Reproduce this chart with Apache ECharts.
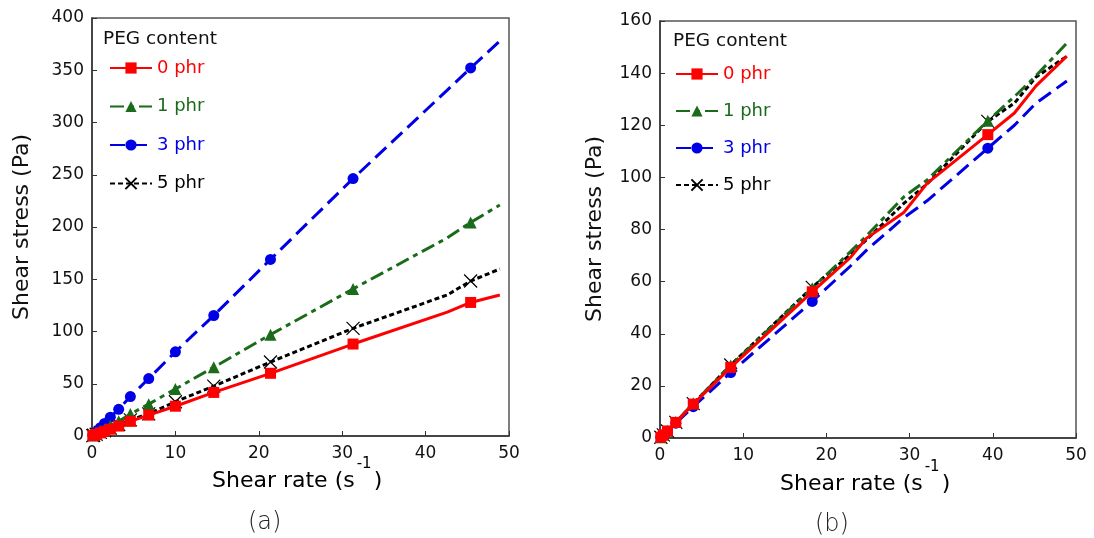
<!DOCTYPE html>
<html>
<head>
<meta charset="utf-8">
<script src="https://cdn.jsdelivr.net/npm/echarts@6/dist/echarts.min.js"></script>
<style>
html,body{margin:0;padding:0;background:#fff;}
#c{width:1094px;height:538px;}
</style>
</head>
<body>
<div id="c"></div>
<script>
// ---------- DATA ----------
const seriesNames = ['0 phr', '1 phr', '3 phr', '5 phr'];

// Chart (a)
const rateA = [0.1, 0.2, 0.5, 1, 1.5, 2.2, 3.2, 4.6, 6.8, 10, 14.6, 21.4, 31.3, 42.6, 45.4, 48.9];
const markIdxA = [0, 1, 2, 3, 4, 5, 6, 7, 8, 9, 10, 11, 12, 14];
const stressA0 = [0.3, 0.6, 1.5, 3, 4.5, 6.5, 9.5, 14, 20, 28.5, 41.7, 60, 88, 118.6, 127.8, 135];
const stressA1 = [0.45, 0.9, 2.2, 4.5, 6.5, 10, 14, 21, 30.5, 45, 65.8, 97, 140.7, 189.6, 204.4, 221];
const stressA3 = [0.8, 1.6, 4, 8, 12, 18, 25.5, 37.7, 55, 80.6, 115.3, 169, 246.3, 331, 352.2, 378];
const stressA5 = [0.35, 0.7, 1.7, 3.4, 5, 7.5, 11, 15.5, 21.2, 32.8, 47.7, 70.8, 103, 135, 148.3, 159.8];

// Chart (b)
const rateB = [0.1, 0.4, 0.9, 1.9, 4, 8.5, 18.3, 22.9, 24.8, 29.3, 32.1, 39.4, 42.6, 45.2, 48.9];
const markIdxB = [0, 1, 2, 3, 4, 5, 6, 11];
const stressB0 = [0.3, 1.2, 2.7, 6, 13, 27.1, 56.1, 69.3, 76.6, 86.5, 97.7, 116.4, 124.7, 135.1, 146.5];
const stressB1 = [0.3, 1.3, 2.8, 6.1, 13.3, 27.8, 57.5, 71.5, 77.5, 92.5, 99, 121.7, 131, 139, 151.5];
const stressB3 = [0.3, 1.1, 2.5, 5.7, 12, 25.1, 52.4, 66, 72, 84.5, 91, 111.2, 120, 128.5, 137];
const stressB5 = [0.3, 1.2, 2.7, 6, 13.2, 28, 57.8, 70.5, 76, 90, 97.5, 121.5, 128.5, 138.5, 146.5];

// Axes
const xTicks = [0, 10, 20, 30, 40, 50];
const yMaxA = 400, yStepA = 50;
const yMaxB = 160, yStepB = 20;

// ---------- STYLE ----------
const FONT = 'DejaVu Sans';
const styles = [
  {color: '#ff0000', dash: 'solid', symbol: 'rect', size: 11},
  {color: '#1a6b1a', dash: [14, 5, 5, 5], symbol: 'triangle', size: 12},
  {color: '#0000e6', dash: [15, 7], symbol: 'circle', size: 11},
  {color: '#000000', dash: [5, 3], symbol: 'path://M0,0L10,10M10,0L0,10', size: 13}
];

function buildData(xs, ys, marks) {
  const set = new Set(marks);
  return xs.map((x, i) => set.has(i) ? [x, ys[i]] : {value: [x, ys[i]], symbol: 'none'});
}

function mkSeries(k, xs, ys, marks, gi) {
  const s = styles[k];
  const isX = k === 3;
  return {
    name: seriesNames[k],
    type: 'line',
    xAxisIndex: gi, yAxisIndex: gi,
    data: buildData(xs, ys, marks),
    symbol: s.symbol,
    symbolSize: s.size,
    showSymbol: true,
    z: 10 - k,
    lineStyle: {color: s.color, width: 3, type: s.dash},
    itemStyle: isX ? {color: 'rgba(0,0,0,0)', borderColor: '#000', borderWidth: 1.2}
                   : {color: s.color, borderWidth: 0},
    emphasis: {disabled: true},
    animation: false
  };
}

const series = [];
[stressA0, stressA1, stressA3, stressA5].forEach((ys, k) => series.push(mkSeries(k, rateA, ys, markIdxA, 0)));
[stressB0, stressB1, stressB3, stressB5].forEach((ys, k) => series.push(mkSeries(k, rateB, ys, markIdxB, 1)));

function xAxis(gi) {
  return {
    type: 'value', gridIndex: gi, min: xTicks[0], max: xTicks[xTicks.length - 1], interval: 10,
    axisLine: {show: true, onZero: false, lineStyle: {color: '#333', width: 1.5}},
    axisTick: {show: true, inside: true, length: 5, lineStyle: {color: '#333'}},
    axisLabel: {color: '#111', fontSize: 17, fontFamily: FONT, margin: 9},
    splitLine: {show: false}
  };
}
function yAxis(gi, max, step) {
  return {
    type: 'value', gridIndex: gi, min: 0, max: max, interval: step,
    axisLine: {show: true, onZero: false, lineStyle: {color: '#333', width: 1.5}},
    axisTick: {show: true, inside: true, length: 5, lineStyle: {color: '#333'}},
    axisLabel: {color: '#111', fontSize: 17, fontFamily: FONT, margin: 8},
    splitLine: {show: false}
  };
}

function legend(left, top, gap) {
  return {
    left: left, top: top, orient: 'vertical',
    itemWidth: 42, itemHeight: 14, itemGap: gap,
    selectedMode: false,
    textStyle: {fontSize: 18, fontFamily: FONT},
    data: seriesNames.map((n, k) => ({name: n, textStyle: {color: styles[k].color}}))
  };
}

function xTitle(cx, y) {
  return {
    type: 'text', left: cx - 88, top: y,
    style: {
      text: '{n|Shear rate (s}{s|-1}{n|)}',
      rich: {
        n: {fontSize: 22, fontFamily: FONT, color: '#111', lineHeight: 40, verticalAlign: 'bottom'},
        s: {fontSize: 15, fontFamily: FONT, color: '#111', lineHeight: 40, verticalAlign: 'top', padding: [5, 2, 0, 2]}
      }
    }
  };
}

function yTitle(cx, cy) {
  return {
    type: 'text', x: cx, y: cy, rotation: Math.PI / 2,
    style: {text: 'Shear stress (Pa)', fontSize: 22, fontFamily: FONT, fill: '#111', align: 'center', verticalAlign: 'middle'}
  };
}

const option = {
  backgroundColor: '#fff',
  animation: false,
  grid: [
    {left: 92, top: 18, width: 417, height: 418, show: true, borderColor: '#555', borderWidth: 1.5, backgroundColor: 'transparent'},
    {left: 660, top: 21, width: 416, height: 417, show: true, borderColor: '#555', borderWidth: 1.5, backgroundColor: 'transparent'}
  ],
  xAxis: [xAxis(0), xAxis(1)],
  yAxis: [yAxis(0, yMaxA, yStepA), yAxis(1, yMaxB, yStepB)],
  legend: [legend(104, 54, 20.5), legend(670, 60, 19)],
  series: series,
  graphic: [
    {type: 'text', left: 103, top: 30, style: {text: 'PEG content', fontSize: 18.5, fontFamily: FONT, fill: '#111'}},
    {type: 'text', left: 673, top: 32, style: {text: 'PEG content', fontSize: 18.5, fontFamily: FONT, fill: '#111'}},
    yTitle(22, 227),
    yTitle(595, 229),
    xTitle(300, 452),
    xTitle(868, 455),
    {type: 'text', left: 248, top: 511, style: {text: '(a)', fontSize: 24, fontFamily: FONT, fill: '#222', fontWeight: 'lighter'}},
    {type: 'text', left: 815, top: 513, style: {text: '(b)', fontSize: 24, fontFamily: FONT, fill: '#222', fontWeight: 'lighter'}}
  ]
};

const chart = echarts.init(document.getElementById('c'), null, {renderer: 'canvas'});
chart.setOption(option);
</script>
</body>
</html>
